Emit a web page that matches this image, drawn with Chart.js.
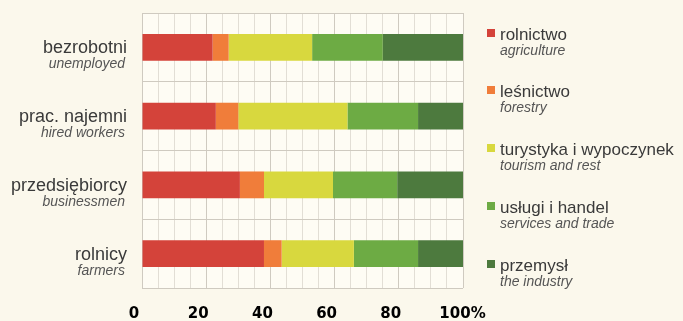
<!DOCTYPE html>
<html>
<head>
<meta charset="utf-8">
<script src="https://cdn.jsdelivr.net/npm/chart.js@4/dist/chart.umd.min.js"></script>
<style>
    html, body { margin: 0; padding: 0; background: #fbf8ec; }
</style>
</head>
<body>
<canvas id="chart" width="683" height="321"></canvas>
<script>
var categories = ['bezrobotni', 'prac. najemni', 'przedsiębiorcy', 'rolnicy'];
var categoriesEn = ['unemployed', 'hired workers', 'businessmen', 'farmers'];

var seriesNames = ['rolnictwo', 'leśnictwo', 'turystyka i wypoczynek', 'usługi i handel', 'przemysł'];
var seriesNamesEn = ['agriculture', 'forestry', 'tourism and rest', 'services and trade', 'the industry'];
var seriesColors = ['#d4433a', '#f07d3a', '#d8d83e', '#6dab44', '#4d7a3e'];

var agriculture = [22, 23, 30.5, 38];
var forestry = [5, 7, 7.5, 5.5];
var tourism = [26, 34, 21.5, 22.5];
var services = [22, 22, 20, 20];
var industry = [25, 14, 20.5, 14];

var tickValues = [0, 20, 40, 60, 80, 100];

var seriesValues = [agriculture, forestry, tourism, services, industry];

var FONT = '"Liberation Sans", Arial, sans-serif';

// two-line category labels, legend and x labels, drawn by hand
var textPlugin = {
    id: 'textPlugin',
    afterDraw: function (chart) {
        var ctx = chart.ctx;
        var y = chart.scales.y;
        var x = chart.scales.x;
        ctx.save();
        ctx.textBaseline = 'alphabetic';

        ctx.textAlign = 'right';
        categories.forEach(function (cat, i) {
            var py = y.getPixelForTick(i);
            ctx.fillStyle = '#3a3a3a';
            ctx.font = '18px ' + FONT;
            ctx.fillText(cat, 127, py + 6);
            ctx.fillStyle = '#555';
            ctx.font = 'italic 14px ' + FONT;
            ctx.fillText(categoriesEn[i], 125, py + 21);
        });

        // legend
        var legendBase = [40, 97, 155, 213, 271];
        ctx.textAlign = 'left';
        seriesNames.forEach(function (name, i) {
            var b = legendBase[i];
            ctx.fillStyle = seriesColors[i];
            ctx.fillRect(487, b - 11, 8, 8);
            ctx.fillStyle = '#3a3a3a';
            ctx.font = '17px ' + FONT;
            ctx.fillText(name, 500, b);
            ctx.fillStyle = '#555';
            ctx.font = 'italic 14px ' + FONT;
            ctx.fillText(seriesNamesEn[i], 500, b + 15);
        });

        // x tick labels, nudged left of the grid lines like the original
        ctx.fillStyle = '#000';
        ctx.font = 'bold 15px "DejaVu Sans", sans-serif';
        tickValues.forEach(function (v, i) {
            var px = x.getPixelForValue(v) - 8;
            ctx.textAlign = 'center';
            ctx.fillText(String(v), px, 318);
            if (i === tickValues.length - 1) {
                var w = ctx.measureText(String(v)).width;
                ctx.textAlign = 'left';
                ctx.fillText('%', px + w / 2, 318);
            }
        });
        ctx.restore();
    }
};

var plotBg = {
    id: 'plotBg',
    beforeDraw: function (chart) {
        var a = chart.chartArea;
        chart.ctx.save();
        chart.ctx.fillStyle = '#fefcf4';
        chart.ctx.fillRect(a.left, a.top, a.right - a.left, a.bottom - a.top);
        chart.ctx.restore();
    }
};

new Chart(document.getElementById('chart').getContext('2d'), {
    type: 'bar',
    data: {
        labels: categories,
        datasets: seriesValues.map(function (vals, i) {
            return {
                label: seriesNames[i],
                data: vals,
                backgroundColor: seriesColors[i],
                borderWidth: 0,
                barPercentage: 0.39,
                categoryPercentage: 1
            };
        })
    },
    options: {
        indexAxis: 'y',
        responsive: false,
        animation: false,
        layout: { padding: { left: 142, right: 220, top: 13, bottom: 0 } },
        plugins: {
            legend: { display: false },
            tooltip: { enabled: false }
        },
        scales: {
            x: {
                stacked: true,
                min: 0,
                max: 100,
                border: { display: false },
                afterFit: function (s) { s.height = 33; },
                grid: {
                    color: function (c) {
                        return c.tick && c.tick.value % 20 === 0 ? '#cfcac0' : '#e2ded5';
                    },
                    lineWidth: 1,
                    drawTicks: false
                },
                ticks: {
                    stepSize: 5,
                    autoSkip: false,
                    display: false
                }
            },
            y: {
                stacked: true,
                border: { display: false },
                grid: {
                    offset: true,
                    color: '#cfcac0',
                    drawTicks: false
                },
                ticks: { display: false }
            }
        }
    },
    plugins: [plotBg, textPlugin]
});
</script>
</body>
</html>
